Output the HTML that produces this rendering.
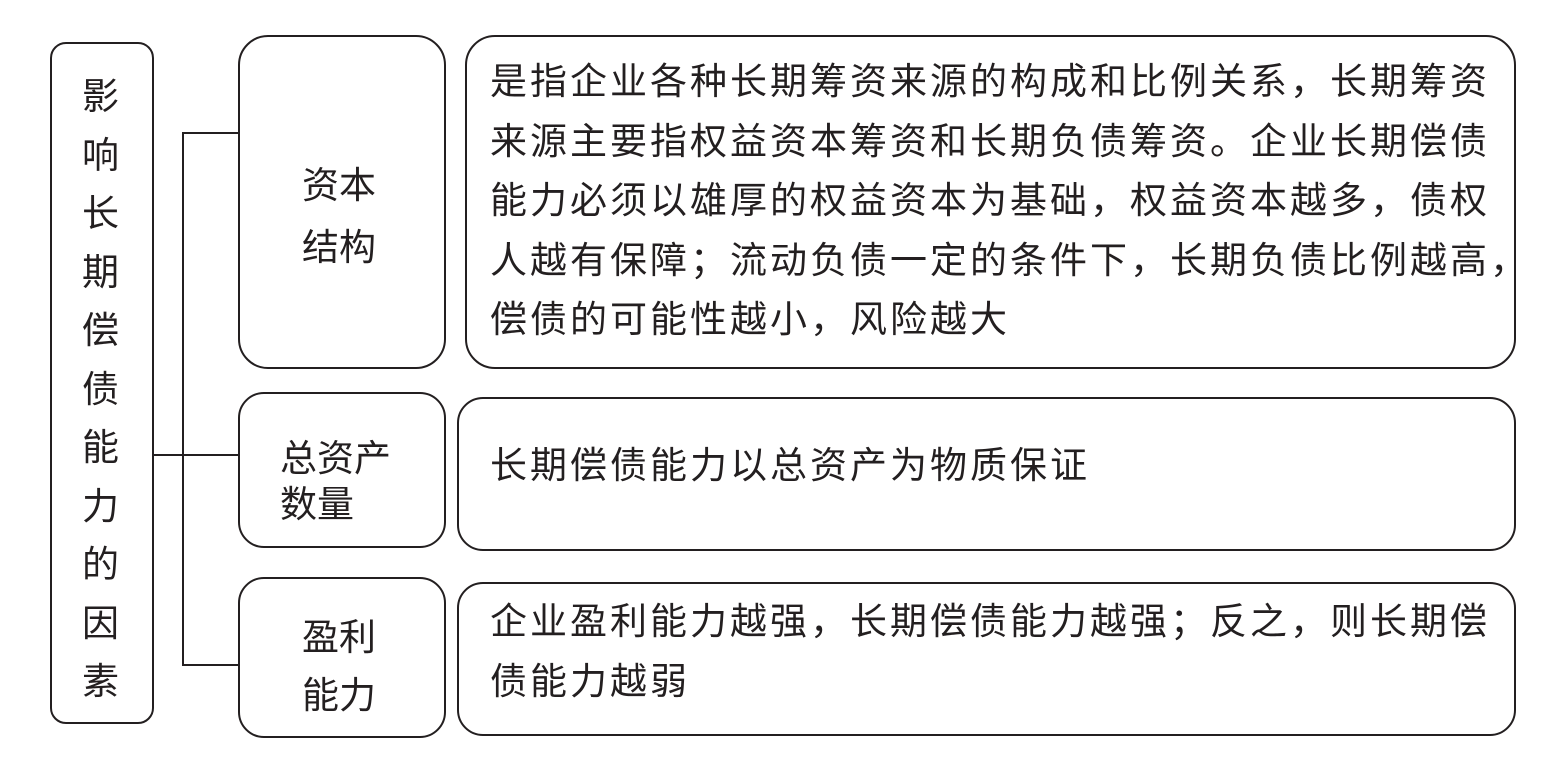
<!DOCTYPE html>
<html><head><meta charset="utf-8"><style>
body{margin:0;width:1554px;height:767px;background:#fff;position:relative;overflow:hidden;font-family:"Liberation Sans","Noto Sans CJK SC",sans-serif;color:#231f20}
.b{position:absolute;border:2.5px solid #231f20;box-sizing:border-box}
.t{position:absolute;font-size:37px;line-height:37px;white-space:nowrap}
.l{position:absolute;background:#231f20}
.p{position:absolute;font-size:37px;letter-spacing:3px;line-height:59.5px;white-space:nowrap}
</style></head><body>
<div class="b" style="left:50px;top:42px;width:104px;height:682px;border-radius:16px"></div>
<div class="t" style="left:82px;top:68px;width:37px;line-height:58.5px;white-space:normal;text-align:center">影响长期偿债能力的因素</div>

<div class="l" style="left:153px;top:454px;width:31px;height:2px"></div>
<div class="l" style="left:182px;top:132px;width:2px;height:534px"></div>
<div class="l" style="left:182px;top:132px;width:58px;height:2px"></div>
<div class="l" style="left:182px;top:454px;width:58px;height:2px"></div>
<div class="l" style="left:182px;top:664px;width:58px;height:2px"></div>

<div class="b" style="left:238px;top:35px;width:208px;height:334px;border-radius:30px"></div>
<div class="t" style="left:302px;top:155px;line-height:62px">资本<br>结构</div>
<div class="b" style="left:238px;top:392px;width:208px;height:156px;border-radius:26px"></div>
<div class="t" style="left:280px;top:436px;line-height:46px">总资产<br>数量</div>
<div class="b" style="left:238px;top:577px;width:208px;height:161px;border-radius:26px"></div>
<div class="t" style="left:302px;top:609px;line-height:58px">盈利<br>能力</div>

<div class="b" style="left:465px;top:35px;width:1051px;height:334px;border-radius:30px"></div>
<div class="p" style="left:490px;top:52px">是指企业各种长期筹资来源的构成和比例关系，长期筹资<br>来源主要指权益资本筹资和长期负债筹资。企业长期偿债<br>能力必须以雄厚的权益资本为基础，权益资本越多，债权<br>人越有保障；流动负债一定的条件下，长期负债比例越高，<br>偿债的可能性越小，风险越大</div>

<div class="b" style="left:457px;top:397px;width:1059px;height:154px;border-radius:26px"></div>
<div class="p" style="left:490px;top:436px">长期偿债能力以总资产为物质保证</div>

<div class="b" style="left:457px;top:582px;width:1059px;height:154px;border-radius:26px"></div>
<div class="p" style="left:490px;top:592px">企业盈利能力越强，长期偿债能力越强；反之，则长期偿<br>债能力越弱</div>
</body></html>
